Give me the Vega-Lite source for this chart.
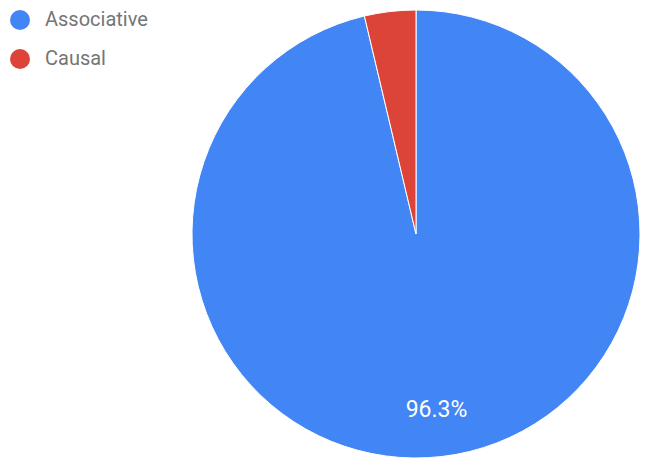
{
  "$schema": "https://vega.github.io/schema/vega-lite/v6.json",
  "autosize": "none",
  "width": 448,
  "height": 448,
  "padding": {"left": 192, "top": 10, "right": 13, "bottom": 12},
  "background": "white",
  "data": {"values": [
    {"type": "Associative", "value": 96.3, "order": 1, "label": "96.3%"},
    {"type": "Causal", "value": 3.7, "order": 2, "label": ""}
  ]},
  "encoding": {
    "theta": {"field": "value", "type": "quantitative", "stack": true},
    "order": {"field": "order", "type": "quantitative"}
  },
  "layer": [
    {
      "mark": {"type": "arc", "outerRadius": 224, "stroke": "white", "strokeWidth": 1},
      "encoding": {
        "color": {
          "field": "type", "type": "nominal",
          "scale": {"domain": ["Associative", "Causal"], "range": ["#4285f4", "#db4437"]},
          "legend": {
            "title": null,
            "orient": "none",
            "legendX": -182,
            "legendY": 0,
            "symbolType": "circle",
            "symbolSize": 400,
            "symbolStrokeWidth": 0,
            "labelFont": "Roboto",
            "labelFontSize": 20,
            "labelColor": "#757575",
            "labelOffset": 15,
            "rowPadding": 19
          }
        }
      }
    },
    {
      "mark": {"type": "text", "radius": 177, "font": "Roboto", "fontSize": 23, "color": "white"},
      "encoding": {"text": {"field": "label"}}
    }
  ],
  "config": {"view": {"stroke": null}}
}
